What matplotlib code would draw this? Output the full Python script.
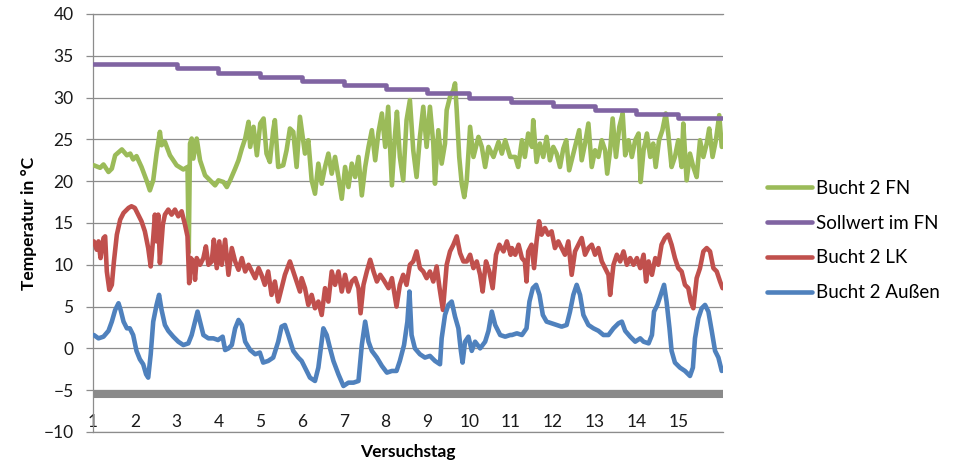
import matplotlib
matplotlib.use("Agg")
import matplotlib.pyplot as plt

plt.rcParams["font.family"] = ["Lato", "DejaVu Sans"]

# Data (x = Versuchstag, y = Temperatur in °C)
fn_days = [1.02, 1.17, 1.25, 1.37, 1.45, 1.53, 1.69, 1.81, 1.89, 1.96, 2.04, 2.16, 2.28, 2.36, 2.44,
           2.52, 2.60, 2.64, 2.72, 2.84, 3.00, 3.16, 3.26, 3.29, 3.32, 3.36, 3.40, 3.48, 3.56, 3.68,
           3.80, 3.92, 4.00, 4.12, 4.20, 4.28, 4.40, 4.48, 4.56, 4.64, 4.72, 4.76, 4.84, 4.92, 5.00,
           5.08, 5.15, 5.23, 5.31, 5.35, 5.43, 5.55, 5.63, 5.71, 5.79, 5.87, 5.95,
           6.07, 6.15, 6.23, 6.31, 6.39, 6.47, 6.55, 6.63, 6.71, 6.79, 6.87, 6.95, 7.03, 7.11, 7.19,
           7.27, 7.35, 7.43, 7.51, 7.59, 7.67, 7.75, 7.83, 7.91, 7.99, 8.06, 8.15, 8.22, 8.27, 8.34,
           8.42, 8.50, 8.58, 8.66, 8.74, 8.82, 8.90, 8.98, 9.06, 9.14, 9.18, 9.26, 9.34, 9.42, 9.46,
           9.54, 9.62, 9.66, 9.70, 9.76, 9.82, 9.88, 9.94, 10.02, 10.10, 10.22, 10.30, 10.38, 10.46,
           10.58, 10.70, 10.78, 10.86, 10.98,
           11.10, 11.17, 11.26, 11.33, 11.41, 11.50, 11.53, 11.61, 11.69, 11.77, 11.85, 11.93, 12.01,
           12.09, 12.17, 12.25, 12.32, 12.39, 12.49, 12.57, 12.63, 12.69, 12.77, 12.85, 12.93, 13.01,
           13.09, 13.17, 13.25, 13.30, 13.37, 13.43, 13.51, 13.59, 13.67, 13.73, 13.81, 13.89, 13.97,
           14.05, 14.10, 14.17, 14.25, 14.33, 14.40, 14.46, 14.54, 14.62, 14.70, 14.76, 14.84, 14.92,
           15.00, 15.08, 15.12, 15.20, 15.28, 15.36, 15.44, 15.52, 15.60, 15.68, 15.74, 15.82, 15.90,
           15.98, 16.04]
fn_temp = [21.9, 21.6, 22.0, 21.1, 21.5, 23.1, 23.8, 23.1, 23.3, 22.6, 23.0, 21.7, 20.1, 18.9, 20.1,
           23.3, 25.9, 24.3, 24.7, 23.1, 21.9, 21.4, 21.7, 11.5, 24.5, 25.1, 22.7, 25.1, 22.5, 20.7,
           20.1, 19.5, 20.1, 19.9, 19.3, 20.1, 21.5, 22.5, 23.9, 25.1, 27.1, 24.1, 26.5, 23.1, 26.9,
           27.5, 23.3, 22.3, 26.1, 27.3, 21.7, 21.9, 23.7, 26.3, 25.9, 21.7, 27.7,
           23.3, 24.9, 20.1, 18.5, 22.1, 19.7, 21.7, 23.3, 20.9, 22.9, 20.5, 17.9, 21.7, 19.3, 22.1,
           20.5, 22.9, 18.3, 21.7, 24.1, 26.1, 22.5, 25.9, 28.1, 24.1, 28.9, 19.5, 25.3, 28.3, 22.9,
           20.1, 27.3, 29.7, 23.7, 20.5, 25.3, 28.9, 24.1, 28.9, 24.5, 19.7, 26.1, 22.1, 24.5, 28.5,
           30.1, 30.9, 31.7, 28.5, 22.9, 19.7, 18.1, 20.1, 26.5, 22.9, 25.3, 24.1, 21.7, 24.1,
           22.9, 24.7, 23.3, 24.9, 22.9,
           22.9, 21.7, 24.9, 22.9, 25.7, 24.1, 27.3, 22.3, 24.5, 22.9, 25.3, 22.5, 24.1,
           23.3, 21.7, 23.9, 24.9, 21.3, 23.3, 24.9, 26.1, 22.5, 24.5, 26.9, 21.7, 23.7,
           22.9, 24.9, 23.7, 20.9, 23.7, 27.5, 22.9, 26.5, 28.1, 23.1, 24.9, 22.9, 24.9,
           25.7, 19.9, 23.7, 25.7, 22.9, 24.5, 21.7, 24.9, 26.1, 28.1, 25.7, 21.7, 22.9,
           24.9, 21.7, 26.9, 20.1, 23.3, 21.7, 20.5, 24.9, 22.9, 24.5, 26.3, 22.9, 24.9,
           27.9, 24.1]

soll_days = [1, 3, 4, 5, 6, 7, 8, 9, 10, 11, 12, 13, 14, 15, 16.05]
soll_temp = [34, 33.5, 33, 32.5, 32, 31.5, 31, 30.5, 30, 29.5, 29, 28.5, 28, 27.5, 27.5]

lk_days = [1.02, 1.09, 1.13, 1.18, 1.25, 1.29, 1.33, 1.39, 1.45, 1.50, 1.57, 1.65, 1.73, 1.85, 1.92,
           2.00, 2.08, 2.16, 2.24, 2.32, 2.38, 2.44, 2.48, 2.52, 2.56, 2.60, 2.67, 2.72, 2.80, 2.88,
           2.96, 3.04, 3.12, 3.20, 3.26, 3.30, 3.34, 3.40, 3.44, 3.48, 3.56, 3.64, 3.70, 3.76, 3.84,
           3.89, 3.96, 4.02, 4.08, 4.16, 4.24, 4.32, 4.40, 4.48, 4.56, 4.64, 4.72, 4.80, 4.88, 4.96,
           5.03, 5.11, 5.19, 5.27, 5.35, 5.43, 5.51, 5.59, 5.71, 5.79, 5.87, 5.95,
           5.99, 6.07, 6.15, 6.23, 6.31, 6.39, 6.47, 6.55, 6.63, 6.71, 6.79, 6.87, 6.95, 7.03, 7.11,
           7.19, 7.27, 7.35, 7.40, 7.47, 7.55, 7.63, 7.71, 7.79, 7.87, 7.95, 8.07, 8.15, 8.26, 8.34,
           8.42, 8.50, 8.58, 8.66, 8.74, 8.82, 8.90, 8.98, 9.06, 9.14, 9.22, 9.29, 9.37, 9.46, 9.54,
           9.62, 9.70, 9.78, 9.86, 9.94, 10.02, 10.10, 10.18, 10.26, 10.32, 10.40, 10.48, 10.56, 10.64,
           10.72, 10.82, 10.90, 10.99,
           11.02, 11.10, 11.18, 11.26, 11.33, 11.37, 11.41, 11.49, 11.55, 11.61, 11.67, 11.73, 11.81,
           11.89, 11.97, 12.05, 12.13, 12.21, 12.29, 12.37, 12.45, 12.53, 12.61, 12.69, 12.77, 12.85,
           12.93, 13.01, 13.09, 13.17, 13.25, 13.33, 13.37, 13.45, 13.53, 13.61, 13.69, 13.77, 13.85,
           13.93, 14.01, 14.09, 14.17, 14.23, 14.29, 14.37, 14.45, 14.52, 14.60, 14.68, 14.76, 14.84,
           14.92, 15.00, 15.08, 15.16, 15.24, 15.30, 15.36, 15.44, 15.52, 15.60, 15.68, 15.76, 15.84,
           15.92, 16.00, 16.06]
lk_temp = [12.8, 11.8, 12.8, 10.8, 13.2, 13.4, 9.2, 7.0, 7.6, 10.4, 13.6, 15.4, 16.2, 16.8, 17.0,
           16.8, 16.0, 15.2, 14.0, 12.0, 9.8, 13.2, 16.0, 12.8, 16.0, 10.2, 14.8, 16.0, 16.6, 16.0,
           16.6, 15.8, 16.4, 14.8, 13.4, 7.8, 10.8, 10.4, 8.2, 10.8, 10.0, 10.8, 12.2, 10.0, 10.4,
           13.0, 9.6, 12.8, 10.0, 13.0, 8.8, 12.0, 10.4, 9.4, 10.8, 9.2, 10.0, 9.2, 8.4, 9.6,
           8.8, 7.6, 9.2, 6.4, 8.0, 5.6, 7.2, 8.8, 10.4, 9.2, 8.0, 6.8,
           8.4, 7.2, 5.2, 6.4, 4.8, 5.6, 4.0, 7.2, 5.6, 9.2, 7.6, 9.2, 6.8, 8.8, 6.8,
           8.0, 8.4, 7.2, 4.2, 7.6, 9.2, 10.6, 9.2, 8.0, 8.8, 8.2, 7.2, 8.4, 5.0, 7.6,
           8.8, 7.6, 10.0, 10.4, 11.6, 9.6, 9.2, 8.4, 9.2, 8.0, 9.8, 7.2, 4.6, 10.0, 11.6,
           12.4, 13.4, 11.4, 10.4, 10.4, 11.2, 9.6, 10.4, 8.8, 6.8, 10.4, 9.2, 7.2, 11.2,
           12.4, 11.6, 12.8, 11.2,
           12.0, 11.2, 12.4, 10.8, 10.4, 8.0, 11.6, 12.4, 9.6, 12.8, 15.2, 13.6, 14.4,
           13.6, 14.0, 12.0, 12.8, 12.0, 11.2, 12.8, 8.8, 11.6, 12.4, 13.2, 11.2, 12.0,
           12.4, 11.2, 12.0, 10.4, 9.6, 8.8, 6.4, 10.0, 11.2, 10.4, 11.6, 10.0, 10.8,
           10.0, 10.8, 9.6, 11.2, 8.0, 10.4, 8.8, 10.8, 10.0, 12.4, 13.2, 13.6, 12.4,
           10.8, 9.6, 9.2, 7.6, 7.2, 5.6, 4.8, 8.4, 9.6, 11.6, 12.0, 11.6, 9.6,
           9.2, 8.0, 7.2]

aussen_days = [1.02, 1.13, 1.25, 1.37, 1.45, 1.53, 1.61, 1.66, 1.73, 1.81, 1.88, 1.96, 2.04, 2.12, 2.20,
               2.27, 2.32, 2.38, 2.44, 2.52, 2.58, 2.64, 2.72, 2.80, 2.92, 3.04, 3.16, 3.28, 3.36, 3.44,
               3.50, 3.56, 3.64, 3.76, 3.88, 3.99, 4.10, 4.16, 4.24, 4.32, 4.40, 4.48, 4.56, 4.64, 4.76,
               4.88, 4.99, 5.07, 5.19, 5.31, 5.43, 5.51, 5.59, 5.67, 5.79, 5.91,
               5.99, 6.07, 6.19, 6.31, 6.39, 6.45, 6.51, 6.59, 6.67, 6.75, 6.87, 6.99, 7.11, 7.23, 7.35,
               7.43, 7.51, 7.59, 7.67, 7.79, 7.91, 8.03, 8.15, 8.26, 8.34, 8.44, 8.52, 8.57, 8.62, 8.70,
               8.82, 8.94, 9.06, 9.18, 9.30, 9.34, 9.42, 9.50, 9.58, 9.66, 9.74, 9.80, 9.84, 9.90, 9.98,
               10.06, 10.14, 10.26, 10.38, 10.46, 10.54, 10.62, 10.74, 10.86, 10.98,
               11.02, 11.14, 11.26, 11.37, 11.44, 11.52, 11.60, 11.68, 11.76, 11.85, 11.97, 12.09, 12.21,
               12.33, 12.41, 12.49, 12.57, 12.65, 12.73, 12.85, 12.97, 13.09, 13.21, 13.33, 13.45, 13.57,
               13.65, 13.73, 13.85, 13.97, 14.09, 14.17, 14.29, 14.37, 14.42, 14.50, 14.58, 14.66, 14.72,
               14.79, 14.84, 14.92, 15.04, 15.16, 15.28, 15.35, 15.40, 15.48, 15.56, 15.64, 15.72, 15.80,
               15.88, 15.96, 16.04]
aussen_temp = [1.6, 1.2, 1.4, 2.1, 3.2, 4.6, 5.4, 4.6, 3.2, 2.4, 2.4, 1.6, -0.3, -1.3, -1.9,
               -3.1, -3.5, -0.7, 3.2, 5.2, 6.4, 4.6, 2.8, 2.1, 1.4, 0.8, 0.4, 0.6, 1.6, 3.2,
               4.4, 3.2, 1.6, 1.2, 1.2, 1.0, 1.4, -0.2, 0.0, 0.4, 2.4, 3.4, 2.8, 0.8, -0.2,
               -0.7, -0.5, -1.7, -1.5, -1.1, 0.8, 2.6, 2.8, 1.6, -0.3, -1.1,
               -1.5, -2.3, -3.5, -3.9, -2.3, 0.0, 2.4, 1.6, 0.0, -1.5, -3.1, -4.5, -4.1, -4.1, -3.9,
               0.4, 3.2, 0.8, -0.3, -1.1, -2.1, -2.9, -2.7, -2.7, -1.5, 0.4, 3.2, 6.8, 1.6, 0.0,
               -0.7, -1.1, -0.9, -1.5, -1.9, 1.2, 4.0, 5.2, 5.6, 3.8, 2.4, -0.3, -1.7, 0.8, 1.4,
               -0.3, 0.8, 0.0, 0.8, 2.1, 4.4, 2.8, 1.6, 1.4, 1.6,
               1.6, 1.8, 1.6, 2.4, 5.6, 7.2, 7.6, 6.4, 4.0, 3.2, 3.0, 2.8, 2.6,
               2.8, 4.4, 6.4, 7.6, 6.4, 4.0, 2.8, 2.4, 2.1, 1.6, 1.6, 2.4, 3.0,
               3.2, 2.1, 1.4, 0.8, 1.2, 0.8, 0.6, 1.6, 4.4, 5.2, 6.4, 7.6, 5.6,
               2.4, -0.3, -1.7, -2.3, -2.7, -3.3, -2.3, 1.2, 3.6, 4.8, 5.2, 4.4, 2.1,
               -0.3, -1.1, -2.7]

day_ticks = list(range(1, 16))
temp_ticks = list(range(-10, 45, 5))

# Setup the figure
fig = plt.figure(figsize=(9.58, 4.63), dpi=100)
ax = fig.add_axes([0.0971, 0.067, 0.6576, 0.9028])

grid_color = "#8c8c8c"
ax.set_axisbelow(True)
ax.grid(axis="y", color=grid_color, linewidth=0.9)
ax.axhline(-5.5, color="#8a8a8a", linewidth=5.8, zorder=1)

line_style = dict(linewidth=3.3, solid_joinstyle="round", solid_capstyle="round", zorder=3)
ax.plot(fn_days, fn_temp, color="#9BBB59", label="Bucht 2 FN", **line_style)
ax.plot(soll_days, soll_temp, color="#8064A2", label="Sollwert im FN", drawstyle="steps-post", **line_style)
ax.plot(lk_days, lk_temp, color="#C0504D", label="Bucht 2 LK", **line_style)
ax.plot(aussen_days, aussen_temp, color="#4F81BD", label="Bucht 2 Außen", **line_style)

ax.set_xlim(1, 16.07)
ax.set_ylim(-10, 40)
ax.set_xticks(day_ticks)
ax.set_yticks(temp_ticks)
ax.tick_params(axis="x", length=0, pad=-13, labelsize=12.5, labelcolor="#1a1a1a")
ax.tick_params(axis="y", length=5, width=0.9, color=grid_color, pad=9, labelsize=12.5, labelcolor="#1a1a1a")

ax.spines["right"].set_visible(False)
for side in ["left", "top", "bottom"]:
    ax.spines[side].set_color(grid_color)
    ax.spines[side].set_linewidth(0.9)

ax.set_ylabel("Temperatur in °C", fontsize=12.5, fontweight="bold", labelpad=5)
ax.set_xlabel("Versuchstag", fontsize=12.5, fontweight="bold", labelpad=9)

fig.legend(loc="center left", bbox_to_anchor=(767 / 958, 0.4806), frameon=False,
           fontsize=13.5, handlelength=2.4, handletextpad=0.2, labelspacing=0.95,
           borderpad=0, borderaxespad=0)

fig.savefig("out.png", dpi=100)
